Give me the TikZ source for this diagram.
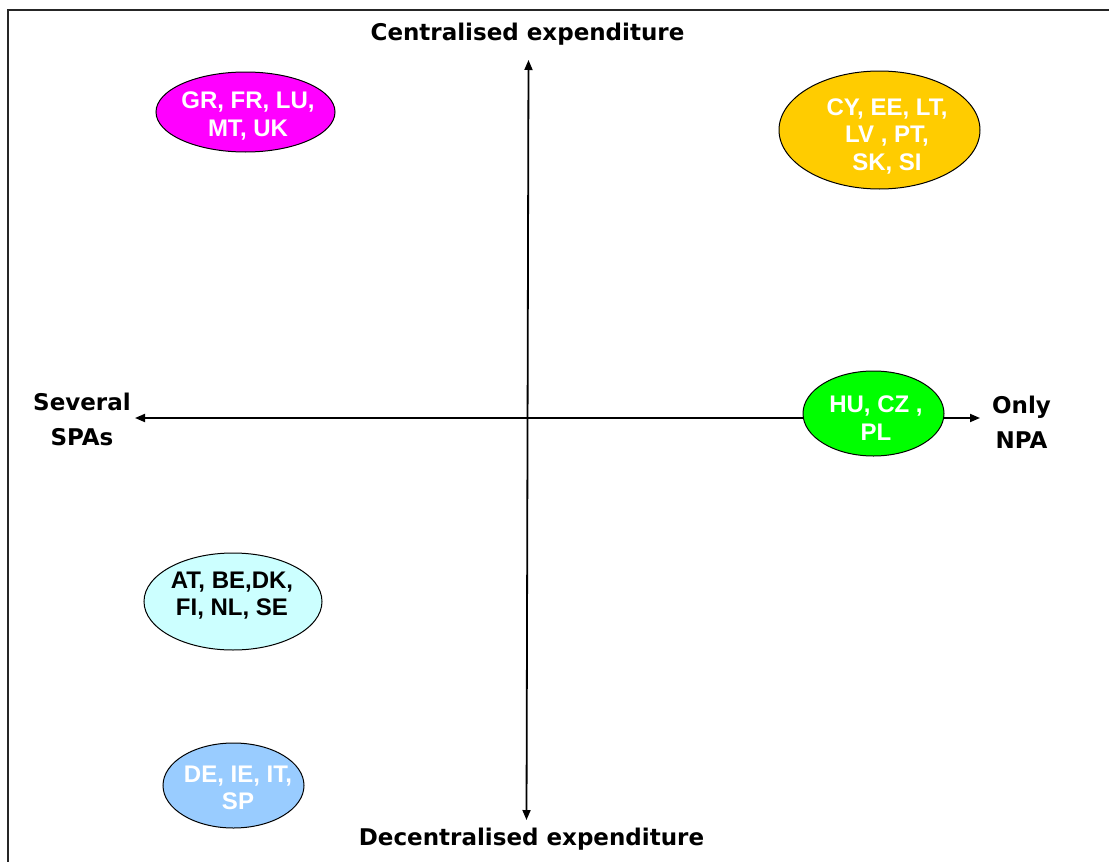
\documentclass[tikz,border=0pt]{standalone}
\usepackage{fontspec}
\setmainfont{Liberation Sans}
\newfontfamily\verd{DejaVu Sans}
\usetikzlibrary{arrows.meta,shapes.geometric}
\definecolor{cmag}{HTML}{FF00FF}
\definecolor{cgold}{HTML}{FFCC00}
\definecolor{cgreen}{HTML}{00FF00}
\definecolor{ccyan}{HTML}{CCFFFF}
\definecolor{cblue}{HTML}{99CCFF}
\begin{document}
\begin{tikzpicture}[x=1pt,y=-1pt,
  axisline/.style={line width=1.8pt, {Triangle[length=10pt,width=8pt]}-{Triangle[length=10pt,width=8pt]}},
  bubble/.style={draw=black, line width=1pt},
  btxt/.style={font=\fontsize{24}{27.5}\selectfont\bfseries, text=white, align=center, inner sep=0pt},
  alab/.style={font=\verd\bfseries\fontsize{23}{35.5}\selectfont, align=center, inner sep=0pt}]
\useasboundingbox (0,0) rectangle (1109,862);
\draw[line width=1.5pt, black!85] (1109,10) -- (8,10) -- (8,862);
% axes
\coordinate (N) at (528.5,60);
\coordinate (S) at (526.5,820);
\coordinate (W) at (135,418);
\coordinate (E) at (980,418);
\draw[axisline] (S) -- (N);
\draw[axisline] (W) -- (E);
% axis labels
\node[alab, anchor=base] (top) at (527.5,40) {Centralised expenditure};
\node[alab, anchor=base] (bottom) at (531.5,845) {Decentralised expenditure};
\node[alab] (left) at (82,419.5) {Several\\SPAs};
\node[alab] (right) at (1021.5,422.5) {Only\\NPA};
% bubbles
\draw[bubble, fill=cmag] (245.5,112) ellipse (89.5 and 40);
\node[btxt] (gr) at (248,116) {GR, FR, LU,\\MT, UK};
\draw[bubble, fill=cgold] (879.5,130) ellipse (100.5 and 59);
\node[btxt] (cy) at (887,136) {CY, EE, LT,\\LV , PT,\\SK, SI};
\draw[bubble, fill=cgreen] (873.5,413.5) ellipse (70.5 and 42.5);
\node[btxt] (hu) at (876,418) {HU, CZ ,\\PL};
\draw[bubble, fill=ccyan] (233,601.5) ellipse (89 and 48.5);
\node[btxt, text=black] (at) at (232,595.5) {AT, BE,DK,\\FI, NL, SE};
\draw[bubble, fill=cblue] (233.5,785.5) ellipse (70.5 and 42.5);
\node[btxt] (de) at (238,788) {DE, IE, IT,\\SP};
\end{tikzpicture}
\end{document}
